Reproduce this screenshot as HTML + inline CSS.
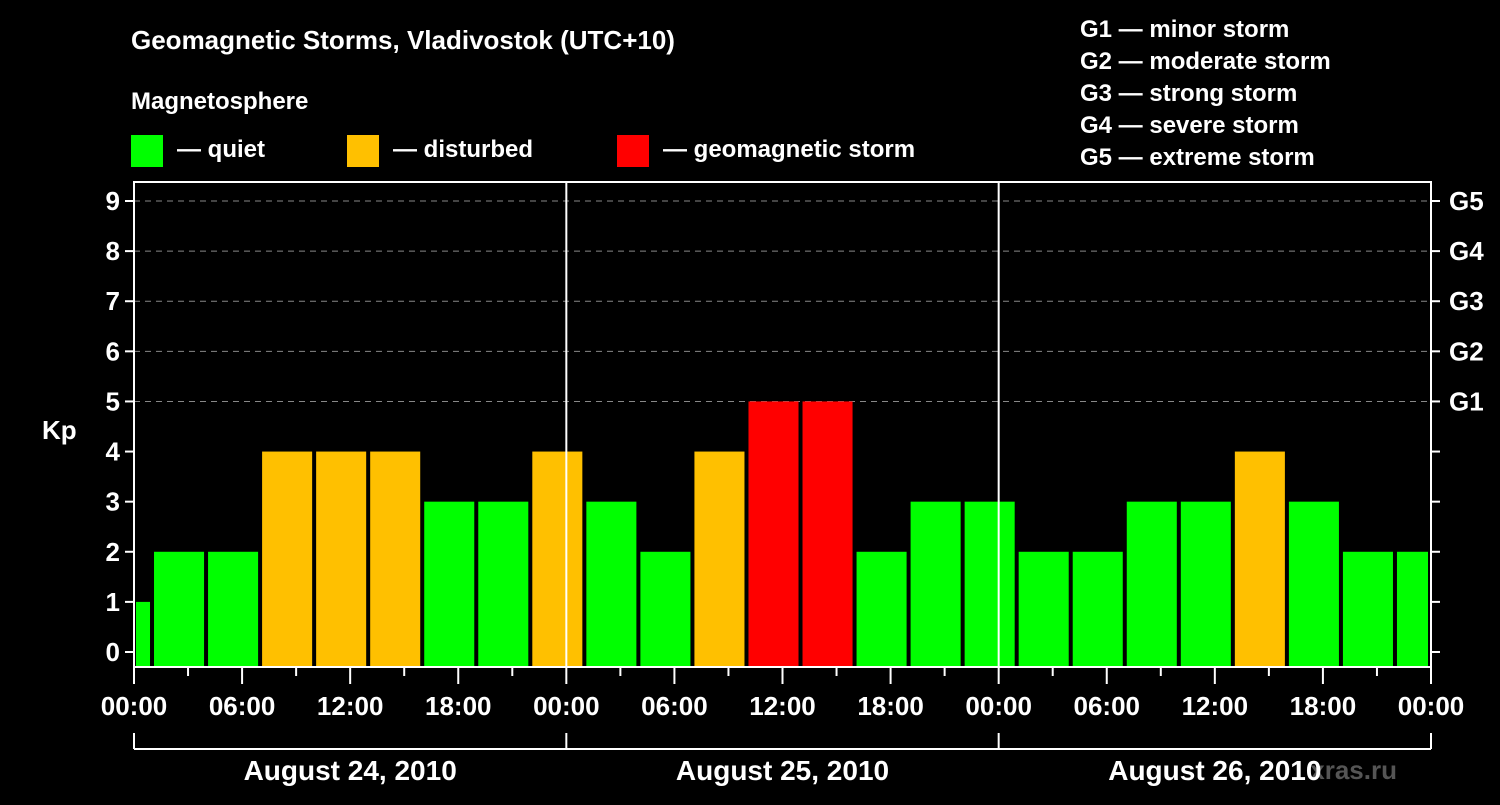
<!DOCTYPE html>
<html><head><meta charset="utf-8"><style>
html,body{margin:0;padding:0;background:#000;}
svg text{font-family:"Liberation Sans",Arial,sans-serif;font-weight:bold;fill:#fff;}
</style></head><body>
<svg id="chart" width="1500" height="800" viewBox="0 0 1500 800" xmlns="http://www.w3.org/2000/svg">
<rect width="1500" height="800" fill="#000"/>
<text x="131" y="49" font-size="26">Geomagnetic Storms, Vladivostok (UTC+10)</text>
<text x="131" y="109" font-size="24">Magnetosphere</text>
<rect x="131" y="135" width="32" height="32" fill="#00ff00"/>
<text x="177" y="157" font-size="24">— quiet</text>
<rect x="347" y="135" width="32" height="32" fill="#ffc000"/>
<text x="393" y="157" font-size="24">— disturbed</text>
<rect x="617" y="135" width="32" height="32" fill="#ff0000"/>
<text x="663" y="157" font-size="24">— geomagnetic storm</text>
<g font-size="24">
<text x="1080" y="37">G1 — minor storm</text>
<text x="1080" y="69">G2 — moderate storm</text>
<text x="1080" y="101">G3 — strong storm</text>
<text x="1080" y="133">G4 — severe storm</text>
<text x="1080" y="165">G5 — extreme storm</text>
</g>
<text x="42" y="439" font-size="26">Kp</text>
<text x="1397" y="779" font-size="26" fill="#666" style="fill:#555" text-anchor="end">xras.ru</text>
<g id="plot"></g>
</svg>
<script>
const kpValues=[1,2,2,4,4,4,3,3,4,3,2,4,5,5,2,3,3,2,2,3,3,4,3,2,2];
const yTicks=[0,1,2,3,4,5,6,7,8,9];
const gLabels=["G1","G2","G3","G4","G5"];
const gLevels=[5,6,7,8,9];
const xLabels=["00:00","06:00","12:00","18:00","00:00","06:00","12:00","18:00","00:00","06:00","12:00","18:00","00:00"];
const dayLabels=["August 24, 2010","August 25, 2010","August 26, 2010"];

const L=134,R=1431,T=182,B=667,H0=0,H1=72;
const xs=h=>L+(h-H0)/(H1-H0)*(R-L);
const ys=v=>652-v*(652-201)/9;
const NS="http://www.w3.org/2000/svg";
const g=document.getElementById('plot');
function mk(tag,a){const e=document.createElementNS(NS,tag);for(const k in a)e.setAttribute(k,a[k]);g.appendChild(e);return e;}
// grid
gLevels.forEach(v=>{
  const e=mk('line',{x1:L,x2:R,y1:ys(v),y2:ys(v),stroke:'#888','stroke-width':1,'stroke-dasharray':'6,5'});
  
  
});
// bars
kpValues.forEach((v,i)=>{
  let h0=-2+3*i,h1=h0+3;
  let x0=Math.max(xs(h0)+2,xs(0)+2),x1=Math.min(xs(h1)-2,xs(72)-3);
  const c=v>=5?'#ff0000':(v==4?'#ffc000':'#00ff00');
  const e=mk('rect',{x:x0,y:ys(v),width:x1-x0,height:B-ys(v),fill:c});
  
  
});
// day separators
[24,48].forEach(h=>{
  const e=mk('line',{x1:xs(h),x2:xs(h),y1:T,y2:B,stroke:'#fff','stroke-width':2});
  
  
});
// frame
const fr=mk('rect',{x:L,y:T,width:R-L,height:B-T,fill:'none',stroke:'#fff','stroke-width':2});


// y ticks
yTicks.forEach(v=>{
  mk('line',{x1:L-9,x2:L,y1:ys(v),y2:ys(v),stroke:'#fff','stroke-width':2});
  mk('line',{x1:R,x2:R+9,y1:ys(v),y2:ys(v),stroke:'#fff','stroke-width':2});
  const t=mk('text',{x:L-14,y:ys(v)+9,'font-size':26,'text-anchor':'end'});
  t.textContent=v;
  
  
});
gLabels.forEach((s,i)=>{
  const t=mk('text',{x:1449,y:ys(gLevels[i])+9,'font-size':26});
  t.textContent=s;
  
  
});
// x ticks
for(let h=0;h<=72;h+=3){
  const len=h%6==0?17:9;
  mk('line',{x1:xs(h),x2:xs(h),y1:B,y2:B+len,stroke:'#fff','stroke-width':2});
}
xLabels.forEach((s,i)=>{
  const t=mk('text',{x:xs(i*6),y:715,'font-size':26,'text-anchor':'middle'});
  t.textContent=s;
  
  
});
// day bracket
mk('line',{x1:L,x2:R,y1:749,y2:749,stroke:'#fff','stroke-width':2});
[0,24,48,72].forEach(h=>mk('line',{x1:xs(h),x2:xs(h),y1:733,y2:749,stroke:'#fff','stroke-width':2}));
dayLabels.forEach((s,i)=>{
  const t=mk('text',{x:xs(i*24+12),y:780,'font-size':28,'text-anchor':'middle'});
  t.textContent=s;
  
  
});
</script>
</body></html>
